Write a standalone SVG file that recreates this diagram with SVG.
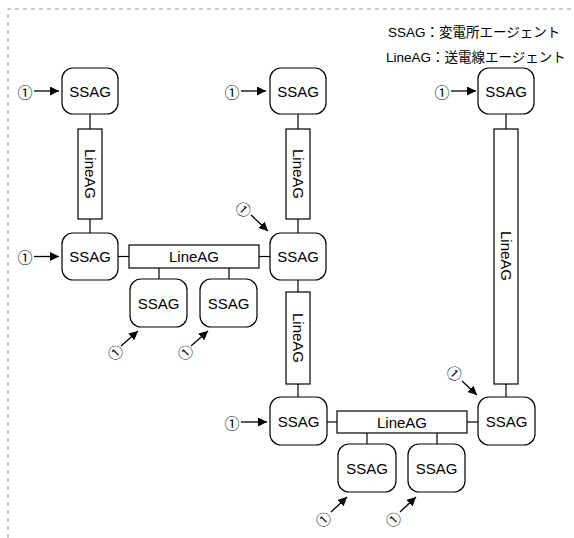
<svg xmlns="http://www.w3.org/2000/svg" width="574" height="538" viewBox="0 0 574 538">
<style>
.box{fill:#fff;stroke:#000;stroke-width:1.2}
.ln{fill:#fff;stroke:#000;stroke-width:1.2}
.t{font-family:"Liberation Sans",Arial,sans-serif;font-size:15px;fill:#000;text-anchor:middle;dominant-baseline:central}
.c{stroke:#000;stroke-width:1.2;fill:none}
.a{stroke:#000;stroke-width:1.3;fill:none;marker-end:url(#ah)}
.n{font-family:"Noto Sans CJK JP","Noto Sans CJK SC",sans-serif;font-size:15px;fill:#000;text-anchor:middle;dominant-baseline:central}
.lg{font-family:"Liberation Sans","Noto Sans CJK JP",sans-serif;font-size:13.5px;fill:#000}
</style>
<defs>
<marker id="ah" viewBox="0 0 10 10" refX="10" refY="5" markerWidth="9" markerHeight="9" markerUnits="userSpaceOnUse" orient="auto">
<path d="M0,0 L10,5 L0,10 z" fill="#000"/>
</marker>
</defs>
<rect width="574" height="538" fill="#fff"/>
<path d="M8,538 L8,9 L574,9" fill="none" stroke="#999" stroke-width="1" stroke-dasharray="4,4"/>
<g id="legend">
<text class="lg" x="388" y="37">SSAG：変電所エージェント</text>
<text class="lg" x="386" y="62">LineAG：送電線エージェント</text>
</g>
<g id="connectors">
<line class="c" x1="90" y1="114" x2="90" y2="129"/>
<line class="c" x1="90" y1="219" x2="90" y2="233"/>
<line class="c" x1="118" y1="256.5" x2="129" y2="256.5"/>
<line class="c" x1="259" y1="256.5" x2="270" y2="256.5"/>
<line class="c" x1="159" y1="268" x2="159" y2="279"/>
<line class="c" x1="229" y1="268" x2="229" y2="279"/>
<line class="c" x1="298" y1="114" x2="298" y2="129"/>
<line class="c" x1="298" y1="219" x2="298" y2="233"/>
<line class="c" x1="298" y1="280" x2="298" y2="292"/>
<line class="c" x1="298" y1="384" x2="298" y2="397"/>
<line class="c" x1="327" y1="422" x2="337" y2="422"/>
<line class="c" x1="467" y1="422" x2="478" y2="422"/>
<line class="c" x1="367" y1="433" x2="367" y2="444"/>
<line class="c" x1="437" y1="433" x2="437" y2="444"/>
<line class="c" x1="506" y1="114" x2="506" y2="129"/>
<line class="c" x1="506" y1="384" x2="506" y2="397"/>
<line class="a" x1="34" y1="91" x2="59" y2="91"/>
<line class="a" x1="34" y1="256.5" x2="59" y2="256.5"/>
<line class="a" x1="241" y1="91" x2="266" y2="91"/>
<line class="a" x1="241" y1="422" x2="267" y2="422"/>
<line class="a" x1="451" y1="91" x2="476" y2="91"/>
<line class="a" x1="251" y1="215" x2="268" y2="231"/>
<line class="a" x1="462" y1="381" x2="477" y2="395"/>
<line class="a" x1="121" y1="346" x2="138" y2="331"/>
<line class="a" x1="191" y1="346" x2="208" y2="331"/>
<line class="a" x1="331" y1="512" x2="347" y2="497"/>
<line class="a" x1="400" y1="512" x2="416" y2="497"/>
</g>
<g id="labels">
<text class="n" x="25" y="91">①</text>
<text class="n" x="25" y="256.5">①</text>
<text class="n" x="232" y="91">①</text>
<text class="n" x="232" y="422">①</text>
<text class="n" x="442" y="91">①</text>
<text class="n" transform="translate(244,209) rotate(45)">①</text>
<text class="n" transform="translate(455,373) rotate(45)">①</text>
<text class="n" transform="translate(115,352) rotate(-45)">①</text>
<text class="n" transform="translate(185,352) rotate(-45)">①</text>
<text class="n" transform="translate(323,519) rotate(-45)">①</text>
<text class="n" transform="translate(393,519) rotate(-45)">①</text>
</g>
<g id="A1"><rect class="box" x="62" y="68" width="56" height="46" rx="11"/><text class="t" x="90" y="91">SSAG</text></g>
<g id="L1"><rect class="ln" x="78" y="129" width="24" height="90"/><text class="t" transform="translate(90,174) rotate(90)">LineAG</text></g>
<g id="A2"><rect class="box" x="62" y="233" width="56" height="47" rx="11"/><text class="t" x="90" y="256.5">SSAG</text></g>
<g id="L2"><rect class="ln" x="129" y="245" width="130" height="23"/><text class="t" x="194" y="256.5">LineAG</text></g>
<g id="B1"><rect class="box" x="130" y="279" width="57" height="48" rx="11"/><text class="t" x="158.5" y="303">SSAG</text></g>
<g id="B2"><rect class="box" x="200" y="279" width="57" height="48" rx="11"/><text class="t" x="228.5" y="303">SSAG</text></g>
<g id="C1"><rect class="box" x="270" y="68" width="56" height="46" rx="11"/><text class="t" x="298" y="91">SSAG</text></g>
<g id="L3"><rect class="ln" x="286" y="129" width="24" height="90"/><text class="t" transform="translate(298,174) rotate(90)">LineAG</text></g>
<g id="C2"><rect class="box" x="270" y="233" width="56" height="47" rx="11"/><text class="t" x="298" y="256.5">SSAG</text></g>
<g id="L4"><rect class="ln" x="286" y="292" width="24" height="92"/><text class="t" transform="translate(298,338) rotate(90)">LineAG</text></g>
<g id="C3"><rect class="box" x="270" y="397" width="57" height="48" rx="11"/><text class="t" x="298.5" y="421">SSAG</text></g>
<g id="L5"><rect class="ln" x="337" y="411" width="130" height="22"/><text class="t" x="402" y="422">LineAG</text></g>
<g id="E1"><rect class="box" x="338" y="444" width="58" height="48" rx="11"/><text class="t" x="367" y="468">SSAG</text></g>
<g id="E2"><rect class="box" x="408" y="444" width="57" height="48" rx="11"/><text class="t" x="436.5" y="468">SSAG</text></g>
<g id="D1"><rect class="box" x="478" y="68" width="56" height="46" rx="11"/><text class="t" x="506" y="91">SSAG</text></g>
<g id="L6"><rect class="ln" x="494" y="129" width="24" height="255"/><text class="t" transform="translate(506,256) rotate(90)">LineAG</text></g>
<g id="D3"><rect class="box" x="478" y="397" width="57" height="48" rx="11"/><text class="t" x="506.5" y="421">SSAG</text></g>
</svg>
